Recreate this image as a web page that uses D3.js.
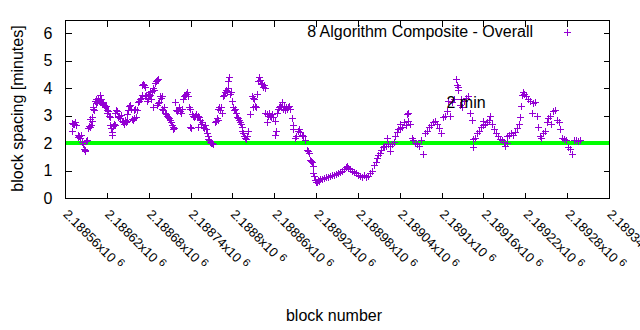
<!DOCTYPE html>
<html>
<head>
<meta charset="utf-8">
<script src="https://cdn.jsdelivr.net/npm/d3@7"></script>
<style>
  body { margin: 0; background: #fff; }
  svg { display: block; }
  text { font-family: "Liberation Sans", Arial, sans-serif; fill: #000; }
</style>
</head>
<body>
<div id="chart"></div>
<script>
// Tick values and labels (block numbers are shown as x10^6 by gnuplot)
const xTickValues = [2188560, 2188620, 2188680, 2188740, 2188800, 2188860, 2188920,
                     2188980, 2189040, 2189100, 2189160, 2189220, 2189280, 2189340];
const xTickLabels = ["2.18856", "2.18862", "2.18868", "2.18874", "2.1888", "2.18886", "2.18892",
                     "2.18898", "2.18904", "2.1891", "2.18916", "2.18922", "2.18928", "2.18934"];
const yTickValues = [0, 1, 2, 3, 4, 5, 6];

const seriesName = "8 Algorithm Composite - Overall";
const targetLabel = "2 min";
const targetMinutes = 2;

// [block number, block spacing in minutes]
const spacingPoints = [
  [2188570,2.72],[2188570,2.45],[2188571,2.70],[2188573,2.68],[2188574,2.75],[2188576,2.65],
  [2188579,2.30],[2188579,2.22],[2188580,2.25],[2188582,2.18],[2188583,2.30],[2188584,2.05],[2188586,1.95],[2188587,1.80],[2188589,1.75],[2188589,1.72],[2188590,2.08],[2188592,2.12],[2188593,2.55],[2188594,2.62],[2188596,2.58],[2188596,2.88],[2188597,2.65],[2188599,2.95],[2188599,2.80],
  [2188600,3.25],[2188600,3.30],[2188602,3.20],[2188603,3.55],[2188604,3.45],[2188604,3.60],[2188606,3.50],[2188607,3.65],[2188609,3.55],[2188610,3.48],[2188610,3.75],[2188612,3.60],[2188613,3.45],[2188614,3.50],[2188614,3.42],[2188616,3.40],[2188617,3.30],[2188619,3.35],[2188620,3.20],[2188620,3.10],[2188622,3.15],[2188623,3.00],[2188625,2.95],[2188625,2.65],[2188626,2.55],[2188627,2.40],[2188627,2.30],[2188629,2.62],
  [2188630,2.70],[2188632,2.65],[2188632,3.10],[2188633,3.20],[2188635,3.15],[2188636,2.95],[2188637,3.00],[2188639,2.90],[2188640,3.02],[2188642,2.80],[2188643,2.75],[2188645,2.70],[2188646,2.85],[2188647,2.78],[2188649,3.05],[2188649,2.80],[2188650,3.20],[2188652,3.35],[2188653,3.40],[2188655,3.25],[2188656,2.88],[2188658,2.85],[2188659,2.90],[2188659,3.20],
  [2188660,3.25],[2188662,2.95],[2188663,3.20],[2188665,3.50],[2188666,3.55],[2188668,3.60],[2188669,3.65],[2188670,3.75],[2188670,4.10],[2188672,4.15],[2188673,4.12],[2188675,4.05],[2188675,3.70],[2188676,3.75],[2188678,3.55],[2188679,3.62],[2188679,3.80],[2188680,3.70],[2188682,3.75],[2188682,3.85],[2188683,3.60],[2188685,3.90],[2188686,4.00],[2188686,3.30],[2188688,3.95],[2188689,4.20],
  [2188690,4.25],[2188692,4.30],[2188692,3.40],[2188693,4.35],[2188693,3.45],[2188695,3.50],[2188696,3.70],[2188698,3.65],[2188699,3.72],[2188699,3.25],[2188701,3.20],[2188702,3.30],[2188703,3.10],[2188705,3.05],[2188706,3.00],[2188708,2.95],[2188709,2.90],[2188711,2.85],[2188712,2.75],[2188713,2.65],[2188715,2.50],[2188715,2.60],[2188716,2.55],[2188718,3.50],[2188719,3.20],
  [2188721,3.15],[2188722,3.22],[2188723,3.30],[2188725,3.18],[2188726,3.10],[2188728,3.25],[2188729,3.60],[2188731,3.70],[2188732,3.75],[2188734,3.80],[2188735,3.85],[2188736,3.70],[2188738,3.30],[2188739,3.25],[2188739,2.60],[2188741,2.55],[2188742,3.05],[2188744,3.00],[2188745,2.95],[2188746,3.00],[2188748,3.05],[2188749,2.95],[2188751,3.00],[2188751,2.60],[2188752,2.95],[2188754,2.85],[2188755,2.70],[2188756,2.75],[2188758,2.60],[2188759,2.55],
  [2188761,2.65],[2188762,2.50],[2188764,2.35],[2188765,2.25],[2188765,2.15],[2188766,2.10],[2188768,2.05],[2188769,2.00],[2188771,2.02],[2188772,1.95],[2188775,2.75],[2188777,2.80],[2188778,2.90],[2188779,2.85],[2188779,3.25],[2188781,3.30],[2188782,3.20],[2188782,3.22],[2188784,3.30],[2188785,3.10],[2188787,3.70],[2188788,3.75],[2188789,3.85],
  [2188791,3.95],[2188792,3.90],[2188794,4.00],[2188794,4.25],[2188795,4.40],[2188797,3.80],[2188798,3.85],[2188799,3.55],[2188801,3.30],[2188802,3.20],[2188804,3.25],[2188805,3.10],[2188807,2.95],[2188808,2.90],[2188810,2.85],[2188811,2.75],[2188812,2.70],[2188814,2.60],[2188814,2.45],[2188815,2.35],[2188817,2.25],[2188818,2.20],
  [2188820,2.15],[2188821,2.25],[2188822,2.45],[2188825,3.05],[2188828,3.70],[2188830,3.65],[2188830,3.30],[2188831,3.60],[2188832,3.35],[2188834,3.30],[2188835,3.80],[2188837,4.25],[2188838,4.40],[2188840,4.30],[2188841,4.20],[2188842,4.15],[2188844,4.05],[2188845,4.10],[2188847,4.00],[2188847,3.10],
  [2188850,3.05],[2188850,2.75],[2188851,3.00],[2188853,3.10],[2188854,3.00],[2188855,2.95],[2188857,3.05],[2188858,2.95],[2188861,2.80],[2188861,2.30],[2188863,2.45],[2188864,3.10],[2188865,3.25],[2188867,3.30],[2188868,3.35],[2188870,3.30],[2188871,3.50],[2188873,3.25],[2188874,3.35],[2188875,3.20],[2188877,3.30],[2188878,3.25],
  [2188880,3.30],[2188881,3.35],[2188883,3.25],[2188886,2.90],[2188887,2.65],[2188887,2.50],[2188890,2.20],[2188891,2.25],[2188894,2.45],[2188896,2.50],[2188897,2.40],
  [2188900,2.30],[2188901,2.25],[2188904,2.10],[2188907,1.75],[2188908,1.70],[2188910,1.65],[2188911,1.40],[2188913,1.35],[2188914,1.30],[2188916,0.90],[2188916,1.15],[2188917,0.80],[2188918,0.65],
  [2188920,0.60],[2188921,0.58],[2188923,0.65],[2188924,0.62],[2188926,0.70],[2188929,0.68],[2188931,0.72],[2188934,0.75],[2188937,0.78],
  [2188940,0.80],[2188943,0.82],[2188946,0.85],[2188949,0.88],[2188951,0.90],[2188954,0.95],[2188957,0.98],
  [2188960,1.05],[2188963,1.12],[2188964,1.18],[2188966,1.10],[2188969,1.05],[2188972,1.00],[2188974,0.95],[2188977,0.90],
  [2188980,0.85],[2188983,0.80],[2188986,0.78],[2188989,0.82],[2188992,0.75],[2188995,0.80],[2188997,0.90],
  [2189000,0.98],[2189003,1.20],[2189006,1.30],[2189007,1.45],[2189009,1.55],[2189012,1.65],[2189013,1.75],[2189016,1.85],[2189017,1.90],
  [2189020,1.88],[2189022,2.20],[2189023,1.95],[2189026,1.90],[2189026,1.70],[2189029,1.95],[2189032,2.05],[2189033,2.25],[2189036,2.40],[2189038,2.50],
  [2189040,2.55],[2189040,2.70],[2189043,2.60],[2189046,2.75],[2189049,2.65],[2189050,3.05],[2189052,3.10],[2189052,2.80],[2189055,2.70],[2189058,2.20],[2189059,2.10],
  [2189062,2.00],[2189065,1.95],[2189068,1.90],[2189071,2.10],[2189073,1.60],[2189076,2.35],[2189079,2.45],
  [2189082,2.60],[2189085,2.65],[2189088,2.75],[2189091,2.80],[2189093,2.70],[2189096,2.55],[2189099,2.35],
  [2189102,2.95],[2189105,3.00],[2189108,3.15],[2189109,3.55],[2189112,3.00],[2189115,3.50],[2189118,3.60],
  [2189121,4.35],[2189122,4.10],[2189124,4.05],[2189124,3.95],[2189126,3.40],[2189128,3.60],[2189129,3.30],[2189132,3.55],[2189135,3.65],[2189138,3.70],
  [2189141,3.10],[2189144,2.85],[2189145,2.15],[2189145,1.85],[2189148,2.20],[2189151,2.35],[2189154,2.45],[2189157,2.60],[2189159,2.80],[2189159,2.65],
  [2189162,2.70],[2189165,2.75],[2189168,2.85],[2189169,3.00],[2189172,2.70],[2189175,2.50],[2189178,2.35],
  [2189181,2.25],[2189184,2.15],[2189187,2.10],[2189190,2.05],[2189191,1.90],[2189194,2.00],[2189194,2.25],[2189197,2.30],
  [2189200,2.35],[2189202,2.28],[2189205,2.40],[2189208,2.55],[2189211,2.70],[2189212,2.95],[2189214,3.35],[2189215,3.75],[2189217,3.85],[2189218,3.80],
  [2189221,3.70],[2189224,3.60],[2189227,3.55],[2189230,3.10],[2189231,3.45],[2189234,3.50],[2189237,3.00],[2189238,2.60],
  [2189241,2.25],[2189243,2.20],[2189245,2.35],[2189248,2.45],[2189251,2.75],[2189253,2.90],[2189255,3.00],[2189257,2.70],
  [2189260,3.15],[2189263,3.20],[2189266,2.85],[2189268,2.75],[2189270,2.50],[2189273,2.20],[2189276,2.15],[2189278,2.10],
  [2189281,1.85],[2189284,1.80],[2189287,1.60],[2189290,2.10],[2189293,2.12],[2189296,2.08],[2189299,2.10]
];

function init() {
    const width = 640, height = 330;
    const plot = { left: 65, right: 609, top: 19.5, bottom: 198 };
    const purple = "#9400d3";

    const svg = d3.select("#chart").append("svg")
        .attr("width", width)
        .attr("height", height);

    const x = d3.scaleLinear()
        .domain([xTickValues[0], xTickValues[xTickValues.length - 1]])
        .range([plot.left, plot.right]);
    const y = d3.scaleLinear()
        .domain([0, 6.5])
        .range([plot.bottom, plot.top]);

    const px = v => Math.round(x(v)) + 0.5;
    const py = v => Math.round(y(v)) + 0.5;
    const L = Math.round(plot.left) + 0.5, R = Math.round(plot.right) + 0.5;
    const T = Math.round(plot.top) + 0.5, B = Math.round(plot.bottom) + 0.5;

    // Tick marks on all four sides, pointing inwards (gnuplot mirror ticks)
    const ticks = svg.append("g").attr("stroke", "#000").attr("shape-rendering", "crispEdges");
    yTickValues.forEach(v => {
        ticks.append("line").attr("x1", L).attr("x2", L + 6).attr("y1", py(v)).attr("y2", py(v));
        ticks.append("line").attr("x1", R).attr("x2", R - 6).attr("y1", py(v)).attr("y2", py(v));
    });
    xTickValues.forEach(v => {
        ticks.append("line").attr("x1", px(v)).attr("x2", px(v)).attr("y1", B).attr("y2", B - 6);
        ticks.append("line").attr("x1", px(v)).attr("x2", px(v)).attr("y1", T).attr("y2", T + 6);
    });

    // Y tick labels
    svg.append("g").selectAll("text")
        .data(yTickValues)
        .enter()
        .append("text")
        .attr("x", 52.5)
        .attr("y", d => y(d) + 5.8)
        .attr("text-anchor", "end")
        .attr("font-size", 16)
        .text(d => d);

    // X tick labels, rotated 45 degrees, "x10^6" with raised 6
    const xl = svg.append("g").selectAll("text")
        .data(xTickValues)
        .enter()
        .append("text")
        .attr("transform", d => `translate(${x(d) - 2.5},215) rotate(45)`)
        .attr("font-size", 13);
    xl.append("tspan").text((d, i) => xTickLabels[i] + "x10");
    xl.append("tspan").attr("dx", 4).attr("dy", -4).attr("font-size", 11).text("6");

    // Axis titles
    svg.append("text")
        .attr("transform", "translate(22.5,108.5) rotate(-90)")
        .attr("text-anchor", "middle")
        .attr("font-size", 16)
        .text("block spacing [minutes]");
    svg.append("text")
        .attr("x", 334)
        .attr("y", 320.5)
        .attr("text-anchor", "middle")
        .attr("font-size", 16)
        .text("block number");

    // Target line at 2 minutes
    svg.append("line")
        .attr("x1", plot.left).attr("x2", plot.right)
        .attr("y1", y(targetMinutes)).attr("y2", y(targetMinutes))
        .attr("stroke", "#00ff00")
        .attr("stroke-width", 4);

    // Data points as "+" markers
    const plus = (cx, cy) => `M${cx - 3.5},${cy}h7M${cx},${cy - 3.5}v7`;
    svg.append("path")
        .attr("d", spacingPoints.map(d => plus(px(d[0]), py(d[1]))).join(""))
        .attr("fill", "none")
        .attr("stroke", purple)
        .attr("stroke-width", 1)
        .attr("shape-rendering", "crispEdges");

    // Label of the target line
    svg.append("text")
        .attr("x", 446.5)
        .attr("y", 107.5)
        .attr("font-size", 16)
        .text(targetLabel);

    // Legend
    svg.append("text")
        .attr("x", 533)
        .attr("y", 36.8)
        .attr("text-anchor", "end")
        .attr("font-size", 16)
        .text(seriesName);
    svg.append("path")
        .attr("d", plus(567.5, 32.5))
        .attr("stroke", purple)
        .attr("shape-rendering", "crispEdges");

    // Plot border
    svg.append("rect")
        .attr("x", L).attr("y", T)
        .attr("width", R - L).attr("height", B - T)
        .attr("fill", "none")
        .attr("stroke", "#000")
        .attr("shape-rendering", "crispEdges");
}

init();
</script>
</body>
</html>
